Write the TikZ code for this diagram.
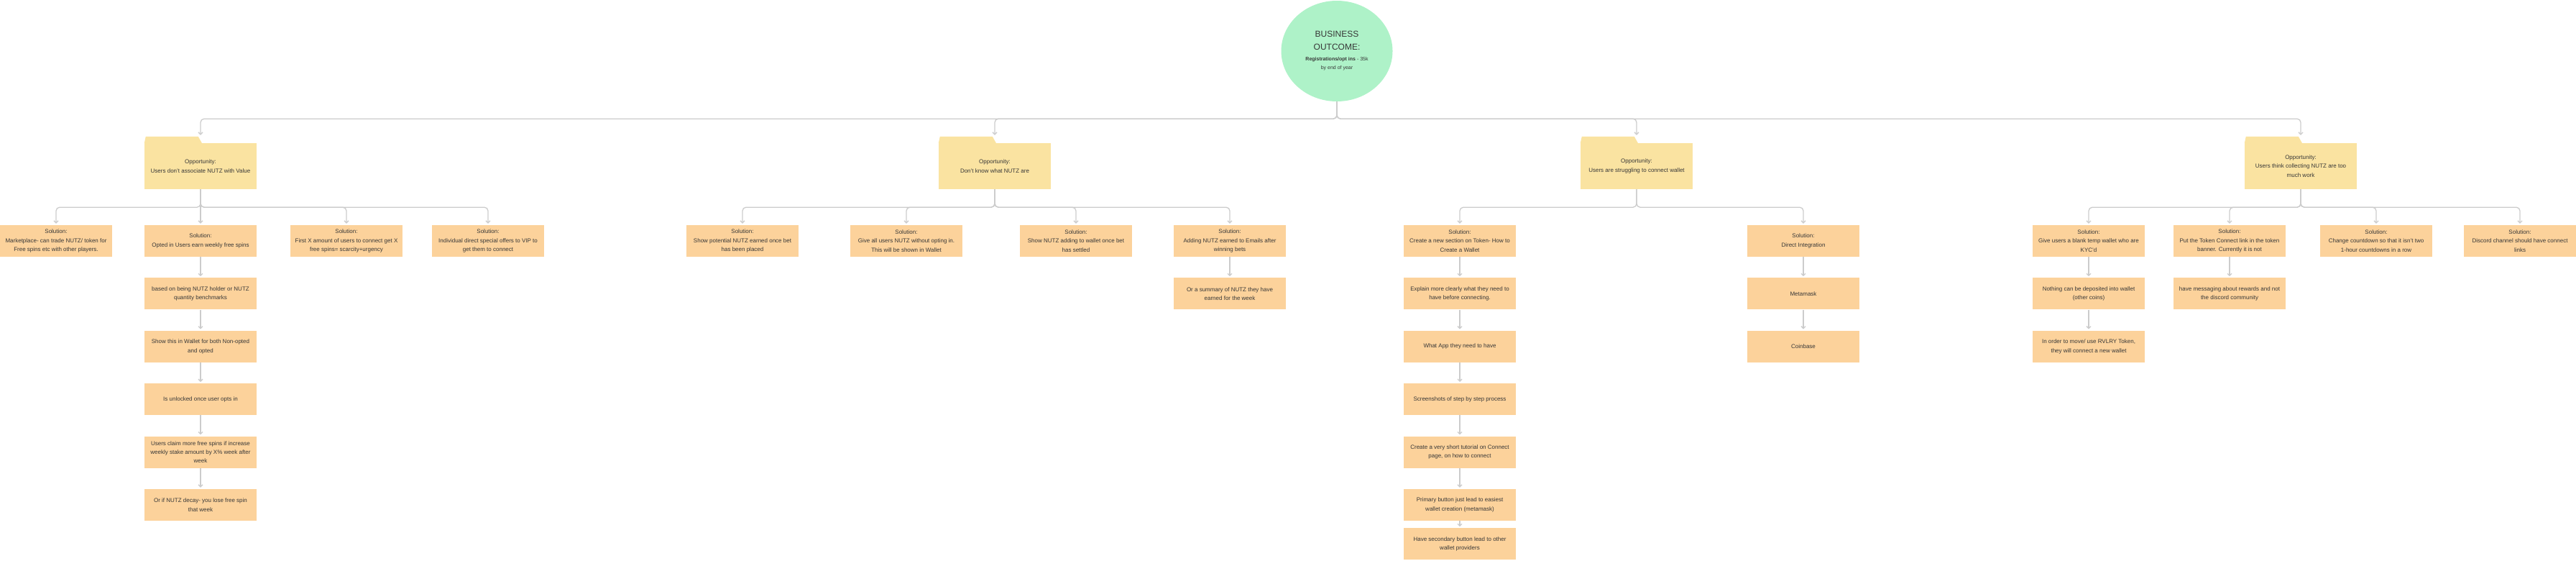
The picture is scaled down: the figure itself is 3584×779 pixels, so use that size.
\documentclass[tikz,border=0pt]{standalone}
\usepackage{fontspec}
\setmainfont{Liberation Sans}
\usepackage{tikz}
\usetikzlibrary{shapes.geometric,arrows.meta,positioning}

\definecolor{goalgreen}{RGB}{174,242,200}
\definecolor{oppyellow}{RGB}{250,227,161}
\definecolor{solpeach}{RGB}{252,210,155}
\definecolor{linegray}{RGB}{204,204,204}
\definecolor{txtgray}{RGB}{55,55,55}

\begin{document}
\begin{tikzpicture}[x=1pt,y=-1pt,
  every node/.style={text=txtgray,align=center,inner sep=0pt},
  goal/.style={ellipse,fill=goalgreen,minimum width=155pt,minimum height=140pt,font=\fontsize{7}{12}\selectfont},
  opp/.style={fill=oppyellow,minimum width=156pt,minimum height=64pt,font=\fontsize{8}{12.3}\selectfont},
  sol/.style={fill=solpeach,minimum width=156pt,minimum height=44pt,font=\fontsize{8}{12.3}\selectfont},
  conn/.style={draw=linegray,line width=1.3pt,rounded corners=5pt,shorten >=2pt,-{Straight Barb[length=3pt,width=6pt]}},
  node distance=29pt]

\useasboundingbox (0,0) rectangle (3584,779);

% business outcome
\node[goal] (goal) at (1860,71) {{\fontsize{12}{18}\selectfont BUSINESS}\\[6pt]{\fontsize{12}{18}\selectfont OUTCOME:}\\[3pt]\textbf{Registrations/opt ins} - 35k\\by end of year};

% opportunities
\node[opp] (opp1) at (279,231) {Opportunity:\\Users don't associate NUTZ with Value};
\node[opp] (opp2) at (1384,231) {Opportunity:\\Don't know what NUTZ are};
\node[opp] (opp3) at (2277,231) {Opportunity:\\Users are struggling to connect wallet};
\node[opp] (opp4) at (3201,231) {Opportunity:\\Users think collecting NUTZ are too\\much work};
\foreach \o in {opp1,opp2,opp3,opp4}
  \fill[oppyellow] (\o.north west) -- ++(2,-9) -- ++(73,0) -- ++(5,9) -- cycle;

% solutions, opportunity 1
\node[sol] (s11) at (78,335) {Solution:\\Marketplace- can trade NUTZ/ token for\\Free spins etc with other players.};
\node[sol] (s12) at (279,335) {Solution:\\Opted in Users earn weekly free spins};
\node[sol] (s13) at (482,335) {Solution:\\First X amount of users to connect get X\\free spins= scarcity+urgency};
\node[sol] (s14) at (679,335) {Solution:\\Individual direct special offers to VIP to\\get them to connect};
\node[sol,below=of s12] (s12a) {based on being NUTZ holder or NUTZ\\quantity benchmarks};
\node[sol,below=of s12a] (s12b) {Show this in Wallet for both Non-opted\\and opted};
\node[sol,below=of s12b] (s12c) {Is unlocked once user opts in};
\node[sol,below=of s12c] (s12d) {Users claim more free spins if increase\\weekly stake amount by X\% week after\\week};
\node[sol,below=of s12d] (s12e) {Or if NUTZ decay- you lose free spin\\that week};

% solutions, opportunity 2
\node[sol] (s21) at (1033,335) {Solution:\\Show potential NUTZ earned once bet\\has been placed};
\node[sol] (s22) at (1261,335) {Solution:\\Give all users NUTZ without opting in.\\This will be shown in Wallet};
\node[sol] (s23) at (1497,335) {Solution:\\Show NUTZ adding to wallet once bet\\has settled};
\node[sol] (s24) at (1711,335) {Solution:\\Adding NUTZ earned to Emails after\\winning bets};
\node[sol,below=of s24] (s24a) {Or a summary of NUTZ they have\\earned for the week};

% solutions, opportunity 3
\node[sol] (s31) at (2031,335) {Solution:\\Create a new section on Token- How to\\Create a Wallet};
\node[sol,below=of s31] (s31a) {Explain more clearly what they need to\\have before connecting.};
\node[sol,below=of s31a] (s31b) {What App they need to have};
\node[sol,below=of s31b] (s31c) {Screenshots of step by step process};
\node[sol,below=of s31c] (s31d) {Create a very short tutorial on Connect\\page, on how to connect};
\node[sol,below=of s31d] (s31e) {Primary button just lead to easiest\\wallet creation (metamask)};
\node[sol,below=10pt of s31e] (s31f) {Have secondary button lead to other\\wallet providers};
\node[sol] (s32) at (2509,335) {Solution:\\Direct Integration};
\node[sol,below=of s32] (s32a) {Metamask};
\node[sol,below=of s32a] (s32b) {Coinbase};

% solutions, opportunity 4
\node[sol] (s41) at (2906,335) {Solution:\\Give users a blank temp wallet who are\\KYC'd};
\node[sol] (s42) at (3102,335) {Solution:\\Put the Token Connect link in the token\\banner. Currently it is not};
\node[sol] (s43) at (3306,335) {Solution:\\Change countdown so that it isn't two\\1-hour countdowns in a row};
\node[sol] (s44) at (3506,335) {Solution:\\Discord channel should have connect\\links};
\node[sol,below=of s41] (s41a) {Nothing can be deposited into wallet\\(other coins)};
\node[sol,below=of s41a] (s41b) {In order to move/ use RVLRY Token,\\they will connect a new wallet};
\node[sol,below=of s42] (s42a) {have messaging about rewards and not\\the discord community};

% connectors
\foreach \o in {opp1,opp2,opp3,opp4}
  \draw[conn] (goal.south) -- ++(0,24) -| ([yshift=9pt]\o.north);
\foreach \p/\s in {opp1/s11,opp1/s13,opp1/s14,opp2/s21,opp2/s22,opp2/s23,opp2/s24,
                   opp3/s31,opp3/s32,opp4/s41,opp4/s42,opp4/s43,opp4/s44}
  \draw[conn] (\p.south) -- ++(0,25) -| (\s.north);
\foreach \a/\b in {opp1/s12,s12/s12a,s12a/s12b,s12b/s12c,s12c/s12d,s12d/s12e,s24/s24a,
                   s31/s31a,s31a/s31b,s31b/s31c,s31c/s31d,s31d/s31e,s31e/s31f,
                   s32/s32a,s32a/s32b,s41/s41a,s41a/s41b,s42/s42a}
  \draw[conn] (\a.south) -- (\b.north);
\end{tikzpicture}
\end{document}
